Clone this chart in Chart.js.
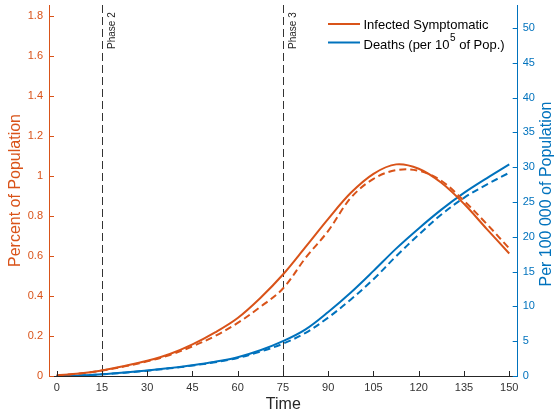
<!DOCTYPE html>
<html><head><meta charset="utf-8">
<script src="https://cdn.jsdelivr.net/npm/chart.js@4/dist/chart.umd.min.js"></script>
<style>html,body{margin:0;padding:0;background:#fff}#wrap{width:557px;height:417px}</style>
</head><body><div id="wrap"><canvas id="c" width="557" height="417"></canvas></div>
<script>
const time = [0, 7.5, 15, 22.5, 30, 37.5, 45, 52.5, 60, 67.5, 75, 82.5, 90, 97.5, 105, 112.5, 120, 127.5, 135, 142.5, 150];
const infectedSolid  = [0.003, 0.012, 0.028, 0.05, 0.076, 0.11, 0.158, 0.218, 0.29, 0.39, 0.507, 0.645, 0.785, 0.915, 1.01, 1.057, 1.035, 0.965, 0.86, 0.735, 0.612];
const infectedDashed = [0.003, 0.012, 0.027, 0.048, 0.073, 0.105, 0.148, 0.2, 0.265, 0.345, 0.437, 0.59, 0.725, 0.89, 0.985, 1.028, 1.025, 0.975, 0.875, 0.76, 0.637];
const deathsSolid    = [0, 0.08, 0.25, 0.5, 0.8, 1.15, 1.55, 2.05, 2.7, 3.7, 5.0, 6.7, 9.2, 12.0, 15.1, 18.3, 21.2, 23.9, 26.3, 28.4, 30.4];
const deathsDashed   = [0, 0.08, 0.24, 0.48, 0.77, 1.1, 1.5, 1.98, 2.6, 3.5, 4.64, 6.2, 8.4, 11.0, 13.9, 17.2, 20.3, 23.2, 25.6, 27.5, 29.2];
const xTicks = [0, 15, 30, 45, 60, 75, 90, 105, 120, 135, 150];
const leftTicks = [0, 0.2, 0.4, 0.6, 0.8, 1, 1.2, 1.4, 1.6, 1.8];
const rightTicks = [0, 5, 10, 15, 20, 25, 30, 35, 40, 45, 50];
const phases = [15, 75];
const phaseLabels = ['Phase 2', 'Phase 3'];
const legendInfected = 'Infected Symptomatic';
const legendDeathsParts = ['Deaths (per 10', '5', ' of Pop.)'];
const xTitle = 'Time';
const leftTitle = 'Percent of Population';
const rightTitle = 'Per 100 000 of Population';

const ORANGE = '#D95319', BLUE = '#0072BD', DARK = '#262626';
const FONT = '"Liberation Sans", Arial, Helvetica, sans-serif';
Chart.defaults.font.family = FONT;

const pts = arr => time.map((t, i) => ({x: t, y: arr[i]}));

const overlay = {
  id: 'overlay',
  beforeDatasetsDraw(chart) {
    const ctx = chart.ctx, a = chart.chartArea, x = chart.scales.x;
    ctx.save();
    ctx.strokeStyle = '#333333';
    ctx.lineWidth = 1;
    ctx.setLineDash([8, 4]);
    phases.forEach((p, i) => {
      const px = Math.round(x.getPixelForValue(p)) + 0.5;
      ctx.beginPath(); ctx.moveTo(px, a.top); ctx.lineTo(px, a.bottom); ctx.stroke();
    });
    ctx.setLineDash([]);
    ctx.fillStyle = '#262626';
    ctx.font = '10px ' + FONT;
    ctx.textAlign = 'left'; ctx.textBaseline = 'middle';
    phases.forEach((p, i) => {
      const px = x.getPixelForValue(p) + 10;
      ctx.save(); ctx.translate(px, 49); ctx.rotate(-Math.PI / 2);
      ctx.fillText(phaseLabels[i], 0, 0); ctx.restore();
    });
    ctx.restore();
  },
  afterDraw(chart) {
    const ctx = chart.ctx, a = chart.chartArea;
    const x = chart.scales.x, yl = chart.scales.y, yr = chart.scales.y1;
    ctx.save();
    ctx.lineWidth = 1;
    ctx.strokeStyle = DARK;
    xTicks.forEach(v => {
      const px = Math.round(x.getPixelForValue(v)) + 0.5;
      ctx.beginPath(); ctx.moveTo(px, a.bottom); ctx.lineTo(px, a.bottom - 5); ctx.stroke();
    });
    ctx.strokeStyle = ORANGE;
    leftTicks.forEach(v => {
      const py = Math.round(yl.getPixelForValue(v)) + 0.5;
      ctx.beginPath(); ctx.moveTo(a.left, py); ctx.lineTo(a.left + 5, py); ctx.stroke();
    });
    ctx.strokeStyle = BLUE;
    rightTicks.forEach(v => {
      const py = Math.round(yr.getPixelForValue(v)) + 0.5;
      ctx.beginPath(); ctx.moveTo(a.right, py); ctx.lineTo(a.right - 5, py); ctx.stroke();
    });
    // right axis title (reads bottom to top)
    ctx.fillStyle = BLUE;
    ctx.font = '16px ' + FONT;
    ctx.textAlign = 'center'; ctx.textBaseline = 'middle';
    ctx.save(); ctx.translate(546.5, 194); ctx.rotate(-Math.PI / 2);
    ctx.fillText(rightTitle, 0, 0); ctx.restore();
    // legend
    ctx.lineWidth = 2;
    ctx.strokeStyle = ORANGE;
    ctx.beginPath(); ctx.moveTo(328, 24); ctx.lineTo(360, 24); ctx.stroke();
    ctx.strokeStyle = BLUE;
    ctx.beginPath(); ctx.moveTo(328, 42.5); ctx.lineTo(360, 42.5); ctx.stroke();
    ctx.fillStyle = '#000';
    ctx.font = '13px ' + FONT;
    ctx.textAlign = 'left'; ctx.textBaseline = 'middle';
    ctx.fillText(legendInfected, 363.5, 25);
    let tx = 363.5;
    ctx.fillText(legendDeathsParts[0], tx, 45);
    tx += ctx.measureText(legendDeathsParts[0]).width;
    ctx.font = '10px ' + FONT;
    ctx.fillText(legendDeathsParts[1], tx + 0.5, 38);
    tx += ctx.measureText(legendDeathsParts[1]).width + 0.5;
    ctx.font = '13px ' + FONT;
    ctx.fillText(legendDeathsParts[2], tx, 45);
    ctx.restore();
  }
};

const lineStyle = {pointRadius: 0, tension: 0.35, fill: false, borderWidth: 2};

new Chart(document.getElementById('c'), {
  type: 'line',
  data: {
    datasets: [
      Object.assign({label: 'Infected Symptomatic', data: pts(infectedSolid), yAxisID: 'y', borderColor: ORANGE}, lineStyle),
      Object.assign({label: 'Infected Symptomatic (alt)', data: pts(infectedDashed), yAxisID: 'y', borderColor: ORANGE, borderDash: [7, 4]}, lineStyle),
      Object.assign({label: 'Deaths', data: pts(deathsSolid), yAxisID: 'y1', borderColor: BLUE}, lineStyle),
      Object.assign({label: 'Deaths (alt)', data: pts(deathsDashed), yAxisID: 'y1', borderColor: BLUE, borderDash: [7, 4]}, lineStyle)
    ]
  },
  options: {
    responsive: false,
    animation: false,
    devicePixelRatio: 1,
    layout: {padding: {top: 5, left: 0, right: 0, bottom: 0}},
    plugins: {legend: {display: false}, tooltip: {enabled: false}},
    scales: {
      x: {
        type: 'linear', min: -2.55, max: 152.8,
        afterBuildTicks: s => { s.ticks = xTicks.map(v => ({value: v})); },
        afterFit: s => { s.height = 41; s.paddingLeft = 0; s.paddingRight = 0; },
        grid: {display: false, drawTicks: false},
        border: {display: true, color: DARK, width: 1},
        ticks: {color: '#333333', font: {size: 11}, padding: 5, maxRotation: 0, autoSkip: false, callback: v => String(v)},
        title: {display: true, text: xTitle, color: DARK, font: {size: 16}, padding: {top: 0, bottom: 2.5}}
      },
      y: {
        type: 'linear', position: 'left', min: 0, max: 1.853,
        afterBuildTicks: s => { s.ticks = leftTicks.map(v => ({value: v})); },
        afterFit: s => { s.width = 49; s.paddingTop = 0; s.paddingBottom = 0; },
        grid: {display: false, drawTicks: false},
        border: {display: true, color: ORANGE, width: 1},
        ticks: {color: ORANGE, font: {size: 11}, padding: 6, autoSkip: false, callback: v => String(v)},
        title: {display: true, text: leftTitle, color: ORANGE, font: {size: 16}, padding: {top: 5.5, bottom: 0}}
      },
      y1: {
        type: 'linear', position: 'right', min: 0, max: 53.3,
        afterBuildTicks: s => { s.ticks = rightTicks.map(v => ({value: v})); },
        afterFit: s => { s.width = 39.3; s.paddingTop = 0; s.paddingBottom = 0; },
        grid: {display: false, drawTicks: false},
        border: {display: true, color: BLUE, width: 1},
        ticks: {color: BLUE, font: {size: 11}, padding: 5, autoSkip: false, callback: v => String(v)}
      }
    }
  },
  plugins: [overlay]
});
</script>
</body></html>
